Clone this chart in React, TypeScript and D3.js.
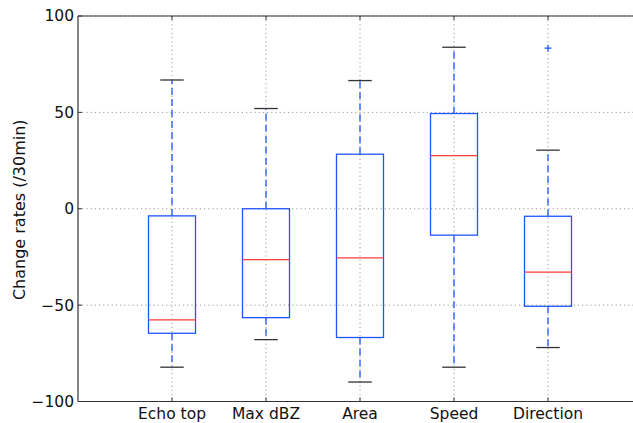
import * as d3 from "d3";

const categories = ["Echo top", "Max dBZ", "Area", "Speed", "Direction"];
const whiskerLow = [-82.2, -67.9, -89.9, -82.2, -72];
const q1 = [-64.6, -56.5, -66.8, -13.7, -50.6];
const median = [-57.7, -26.4, -25.5, 27.6, -32.9];
const q3 = [-3.7, 0, 28.3, 49.4, -3.9];
const whiskerHigh = [66.8, 52, 66.5, 83.8, 30.4];
const fliers = [[], [], [], [], [83.3]];
const yTicks = [-100, -50, 0, 50, 100];

const width = 633;
const height = 423;
const marginLeft = 78;
const marginTop = 16;
const plotBottom = 401.5;
const font = "'DejaVu Sans', sans-serif";

export default function App() {
  const x = d3.scaleLinear([0, 6], [marginLeft, marginLeft + 6 * 94]);
  const y = d3.scaleLinear([-100, 100], [plotBottom, marginTop]);
  const boxW = x(0.5) - x(0);
  const capW = x(0.25) - x(0);
  const blue = "#1f55ff";
  const right = x(6);

  return (
    <div style={{ position: "fixed", left: 0, top: 0 }}>
      <svg width={width} height={height} style={{ display: "block", background: "#fff" }}>
        {/* grid */}
        <g stroke="#9a9a9a" strokeWidth={1} strokeDasharray="1.2,3">
          {yTicks.map((t) => (
            <line key={"gy" + t} x1={marginLeft} x2={right} y1={y(t)} y2={y(t)} />
          ))}
          {categories.map((c, i) => (
            <line key={"gx" + c} x1={x(i + 1)} x2={x(i + 1)} y1={marginTop} y2={plotBottom} />
          ))}
        </g>

        {/* boxes */}
        {categories.map((c, i) => {
          const cx = x(i + 1);
          return (
            <g key={c}>
              <line x1={cx} x2={cx} y1={y(q3[i])} y2={y(whiskerHigh[i])} stroke={blue} strokeWidth={1.3} strokeDasharray="7,4" />
              <line x1={cx} x2={cx} y1={y(q1[i])} y2={y(whiskerLow[i])} stroke={blue} strokeWidth={1.3} strokeDasharray="7,4" />
              <line x1={cx - capW / 2} x2={cx + capW / 2} y1={y(whiskerHigh[i])} y2={y(whiskerHigh[i])} stroke="#333" strokeWidth={1.3} />
              <line x1={cx - capW / 2} x2={cx + capW / 2} y1={y(whiskerLow[i])} y2={y(whiskerLow[i])} stroke="#333" strokeWidth={1.3} />
              <rect x={cx - boxW / 2} y={y(q3[i])} width={boxW} height={y(q1[i]) - y(q3[i])} fill="none" stroke={blue} strokeWidth={1.3} />
              <line x1={cx - boxW / 2} x2={cx + boxW / 2} y1={y(median[i])} y2={y(median[i])} stroke="#ff3b3b" strokeWidth={1.3} />
              {fliers[i].map((f, k) => (
                <path key={k} d={`M${cx - 3.5},${y(f)}h7M${cx},${y(f) - 3.5}v7`} stroke={blue} strokeWidth={1.2} />
              ))}
            </g>
          );
        })}

        {/* spines */}
        <g stroke="#333" strokeWidth={1.2} fill="none">
          <line x1={marginLeft} x2={right} y1={marginTop} y2={marginTop} />
          <line x1={marginLeft} x2={right} y1={plotBottom} y2={plotBottom} />
          <line x1={marginLeft} x2={marginLeft} y1={marginTop} y2={plotBottom} />
        </g>

        {/* ticks */}
        <g stroke="#333" strokeWidth={1}>
          {categories.map((c, i) => (
            <g key={"t" + c}>
              <line x1={x(i + 1)} x2={x(i + 1)} y1={plotBottom} y2={plotBottom - 4} />
              <line x1={x(i + 1)} x2={x(i + 1)} y1={marginTop} y2={marginTop + 4} />
            </g>
          ))}
          {yTicks.map((t) => (
            <line key={"ty" + t} x1={marginLeft} x2={marginLeft + 4} y1={y(t)} y2={y(t)} />
          ))}
        </g>

        {/* tick labels */}
        <g fontFamily={font} fontSize={15.5} fill="#111">
          {yTicks.map((t) => (
            <text key={"ly" + t} x={marginLeft - 4} y={y(t)} dy="0.35em" textAnchor="end">
              {t < 0 ? "\u2212" + Math.abs(t) : t}
            </text>
          ))}
          {categories.map((c, i) => (
            <text key={"lx" + c} x={x(i + 1)} y={plotBottom + 17} textAnchor="middle">
              {c}
            </text>
          ))}
        </g>

        <text
          transform={`translate(25,${(marginTop + plotBottom) / 2 + 1}) rotate(-90)`}
          textAnchor="middle"
          fontFamily={font}
          fontSize={16}
          fill="#111"
        >
          Change rates (/30min)
        </text>
      </svg>
    </div>
  );
}
